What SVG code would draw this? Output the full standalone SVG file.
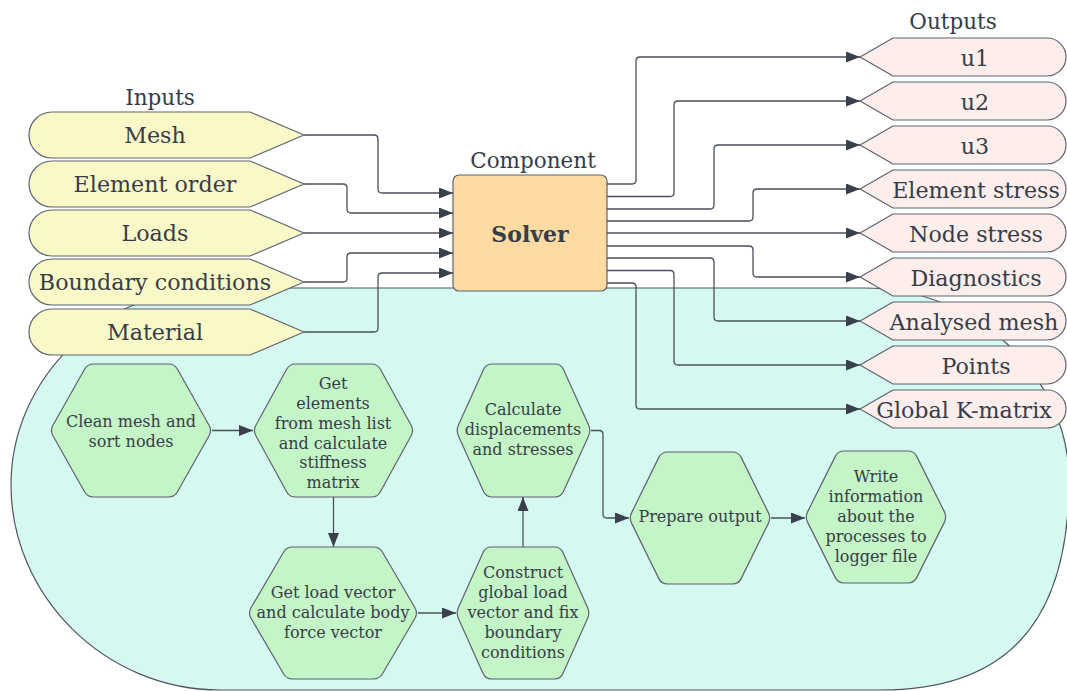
<svg xmlns="http://www.w3.org/2000/svg" width="1067" height="691" viewBox="0 0 1067 691">
  <style>
    text { font-family: "DejaVu Serif", "Liberation Serif", serif; fill: #363d49; text-anchor: middle; }
    .title { font-size: 21.5px; }
    .lbl { font-size: 22.2px; }
    .hx { font-size: 16px; }
    .bold { font-size: 22px; font-weight: bold; }
    .in { fill: #fbf8c8; stroke: #5e6370; stroke-width: 1.2; stroke-linejoin: round; }
    .out { fill: #fdeeec; stroke: #5e6370; stroke-width: 1.2; stroke-linejoin: round; }
    .hex { fill: #c3f5c6; stroke: #5e6370; stroke-width: 1.2; }
    .proc { fill: #ffdba3; stroke: #5e6370; stroke-width: 1.2; }
    .bg { fill: #d5f8f1; stroke: #4f5560; stroke-width: 1.2; }
    .wire { fill: none; stroke: #4a505b; stroke-width: 1.3; marker-end: url(#arrow); }
  </style>
  <defs>
    <marker id="arrow" markerUnits="userSpaceOnUse" markerWidth="14" markerHeight="11" viewBox="0 0 14 11" refX="14" refY="5.5" orient="auto">
      <path d="M0,0 L14,5.5 L0,11 Z" fill="#3a404b"/>
    </marker>
    <path id="inShape" d="M 52,-23 H 250 L 304,0 L 250,23 H 52 A 23 23 0 0 1 52,-23 Z"/>
    <path id="outShape" d="M 860,0 L 893,-19 H 1047 A 19 19 0 0 1 1047,19 H 893 Z"/>
  </defs>

  <!-- solver internals area -->
  <path id="solver-area" class="bg" d="M 216,288 H 864 C 980,288 1069,380 1069,480 C 1069,630 1000,690 880,690 H 220 C 105,690 11,596 11,485 C 11,378 103,288 216,288 Z"/>

  <!-- inputs -->
  <text class="title" x="160" y="105">Inputs</text>
  <g id="in-mesh" transform="translate(0,135)"><use href="#inShape" class="in"/><text class="lbl" x="155" y="8">Mesh</text></g>
  <g id="in-order" transform="translate(0,184)"><use href="#inShape" class="in"/><text class="lbl" x="155" y="8">Element order</text></g>
  <g id="in-loads" transform="translate(0,233)"><use href="#inShape" class="in"/><text class="lbl" x="155" y="8">Loads</text></g>
  <g id="in-bc" transform="translate(0,282)"><use href="#inShape" class="in"/><text class="lbl" x="155" y="8">Boundary conditions</text></g>
  <g id="in-material" transform="translate(0,332)"><use href="#inShape" class="in"/><text class="lbl" x="155" y="8">Material</text></g>

  <!-- component -->
  <text class="title" x="533" y="168">Component</text>
  <g id="solver">
    <rect class="proc" x="453" y="175" width="154" height="116" rx="6"/>
    <text class="bold" x="530" y="242">Solver</text>
  </g>

  <!-- outputs -->
  <text class="title" x="953" y="29">Outputs</text>
  <g id="out-u1" transform="translate(0,57)"><use href="#outShape" class="out"/><text class="lbl" x="975" y="9">u1</text></g>
  <g id="out-u2" transform="translate(0,101)"><use href="#outShape" class="out"/><text class="lbl" x="975" y="9">u2</text></g>
  <g id="out-u3" transform="translate(0,145)"><use href="#outShape" class="out"/><text class="lbl" x="975" y="9">u3</text></g>
  <g id="out-elstress" transform="translate(0,189)"><use href="#outShape" class="out"/><text class="lbl" x="976" y="9">Element stress</text></g>
  <g id="out-nodestress" transform="translate(0,233)"><use href="#outShape" class="out"/><text class="lbl" x="976" y="9">Node stress</text></g>
  <g id="out-diag" transform="translate(0,277)"><use href="#outShape" class="out"/><text class="lbl" x="976" y="9">Diagnostics</text></g>
  <g id="out-mesh" transform="translate(0,321)"><use href="#outShape" class="out"/><text class="lbl" x="974" y="9">Analysed mesh</text></g>
  <g id="out-points" transform="translate(0,365)"><use href="#outShape" class="out"/><text class="lbl" x="976" y="9">Points</text></g>
  <g id="out-kmatrix" transform="translate(0,409)"><use href="#outShape" class="out"/><text class="lbl" x="964" y="9">Global K-matrix</text></g>

  <!-- process steps -->
  <g id="step-clean">
    <path class="hex" d="M 93.5,364 L 168.5,364 Q 174.5,364 177.45,369.23 L 209.05,425.27 Q 212,430.5 209.05,435.73 L 177.45,491.77 Q 174.5,497 168.5,497 L 93.5,497 Q 87.5,497 84.55,491.77 L 52.95,435.73 Q 50,430.5 52.95,425.27 L 84.55,369.23 Q 87.5,364 93.5,364 Z"/>
    <text class="hx" x="131" y="427">Clean mesh and</text>
    <text class="hx" x="131" y="447">sort nodes</text>
  </g>
  <g id="step-stiffness">
    <path class="hex" d="M 295.5,364 L 371.5,364 Q 377.5,364 380.39,369.26 L 411.11,425.24 Q 414,430.5 411.11,435.76 L 380.39,491.74 Q 377.5,497 371.5,497 L 295.5,497 Q 289.5,497 286.61,491.74 L 255.89,435.76 Q 253,430.5 255.89,425.24 L 286.61,369.26 Q 289.5,364 295.5,364 Z"/>
    <text class="hx" x="333" y="389">Get</text>
    <text class="hx" x="333" y="409">elements</text>
    <text class="hx" x="333" y="429">from mesh list</text>
    <text class="hx" x="333" y="449">and calculate</text>
    <text class="hx" x="333" y="468">stiffness</text>
    <text class="hx" x="333" y="488">matrix</text>
  </g>
  <g id="step-loads">
    <path class="hex" d="M 292.5,547 L 373.5,547 Q 379.5,547 382.52,552.18 L 414.98,607.82 Q 418,613 414.98,618.18 L 382.52,673.82 Q 379.5,679 373.5,679 L 292.5,679 Q 286.5,679 283.48,673.82 L 251.02,618.18 Q 248,613 251.02,607.82 L 283.48,552.18 Q 286.5,547 292.5,547 Z"/>
    <text class="hx" x="333" y="598">Get load vector</text>
    <text class="hx" x="333" y="618">and calculate body</text>
    <text class="hx" x="333" y="638">force vector</text>
  </g>
  <g id="step-solve">
    <path class="hex" d="M 492,364 L 555,364 Q 561,364 563.47,369.47 L 588.53,425.03 Q 591,430.5 588.53,435.97 L 563.47,491.53 Q 561,497 555,497 L 492,497 Q 486,497 483.53,491.53 L 458.47,435.97 Q 456,430.5 458.47,425.03 L 483.53,369.47 Q 486,364 492,364 Z"/>
    <text class="hx" x="523" y="415">Calculate</text>
    <text class="hx" x="523" y="435">displacements</text>
    <text class="hx" x="523" y="455">and stresses</text>
  </g>
  <g id="step-assemble">
    <path class="hex" d="M 491.5,547 L 554.5,547 Q 560.5,547 562.95,552.48 L 587.55,607.52 Q 590,613 587.55,618.48 L 562.95,673.52 Q 560.5,679 554.5,679 L 491.5,679 Q 485.5,679 483.05,673.52 L 458.45,618.48 Q 456,613 458.45,607.52 L 483.05,552.48 Q 485.5,547 491.5,547 Z"/>
    <text class="hx" x="523" y="578">Construct</text>
    <text class="hx" x="523" y="598">global load</text>
    <text class="hx" x="523" y="618">vector and fix</text>
    <text class="hx" x="523" y="638">boundary</text>
    <text class="hx" x="523" y="658">conditions</text>
  </g>
  <g id="step-output">
    <path class="hex" d="M 667.5,452 L 732.5,452 Q 738.5,452 741.15,457.38 L 768.35,512.62 Q 771,518 768.35,523.38 L 741.15,578.62 Q 738.5,584 732.5,584 L 667.5,584 Q 661.5,584 658.85,578.62 L 631.65,523.38 Q 629,518 631.65,512.62 L 658.85,457.38 Q 661.5,452 667.5,452 Z"/>
    <text class="hx" x="700" y="522">Prepare output</text>
  </g>
  <g id="step-log">
    <path class="hex" d="M 844,451 L 908,451 Q 914,451 916.68,456.37 L 944.32,511.63 Q 947,517 944.32,522.37 L 916.68,577.63 Q 914,583 908,583 L 844,583 Q 838,583 835.32,577.63 L 807.68,522.37 Q 805,517 807.68,511.63 L 835.32,456.37 Q 838,451 844,451 Z"/>
    <text class="hx" x="876" y="482">Write</text>
    <text class="hx" x="876" y="502">information</text>
    <text class="hx" x="876" y="522">about the</text>
    <text class="hx" x="876" y="542">processes to</text>
    <text class="hx" x="876" y="562">logger file</text>
  </g>

  <!-- connectors -->
  <g id="connectors">
    <path class="wire" d="M 304,135 H 374 Q 378,135 378,139 V 189 Q 378,193 382,193 H 453"/>
    <path class="wire" d="M 304,184 H 343 Q 347,184 347,188 V 209 Q 347,213 351,213 H 453"/>
    <path class="wire" d="M 304,233 H 453"/>
    <path class="wire" d="M 304,282 H 343 Q 347,282 347,278 V 257 Q 347,253 351,253 H 453"/>
    <path class="wire" d="M 304,332 H 374 Q 378,332 378,328 V 277 Q 378,273 382,273 H 453"/>

    <path class="wire" d="M 607,184 H 632 Q 636,184 636,180 V 61 Q 636,57 640,57 H 860"/>
    <path class="wire" d="M 607,196.5 H 670 Q 674,196.5 674,192.5 V 105 Q 674,101 678,101 H 860"/>
    <path class="wire" d="M 607,209 H 710 Q 714,209 714,205 V 149 Q 714,145 718,145 H 860"/>
    <path class="wire" d="M 607,221 H 749 Q 753,221 753,217 V 193 Q 753,189 757,189 H 860"/>
    <path class="wire" d="M 607,233 H 860"/>
    <path class="wire" d="M 607,246 H 749 Q 753,246 753,250 V 273 Q 753,277 757,277 H 860"/>
    <path class="wire" d="M 607,258 H 710 Q 714,258 714,262 V 317 Q 714,321 718,321 H 860"/>
    <path class="wire" d="M 607,270.5 H 670 Q 674,270.5 674,274.5 V 361 Q 674,365 678,365 H 860"/>
    <path class="wire" d="M 607,283 H 632 Q 636,283 636,287 V 405 Q 636,409 640,409 H 860"/>

    <path class="wire" d="M 212,430.5 H 253"/>
    <path class="wire" d="M 333.5,497 V 547"/>
    <path class="wire" d="M 418,613 H 456"/>
    <path class="wire" d="M 523,547 V 497"/>
    <path class="wire" d="M 591,430.5 H 599 Q 603,430.5 603,434.5 V 514 Q 603,518 607,518 H 629"/>
    <path class="wire" d="M 771,518 H 805"/>
  </g>
</svg>
